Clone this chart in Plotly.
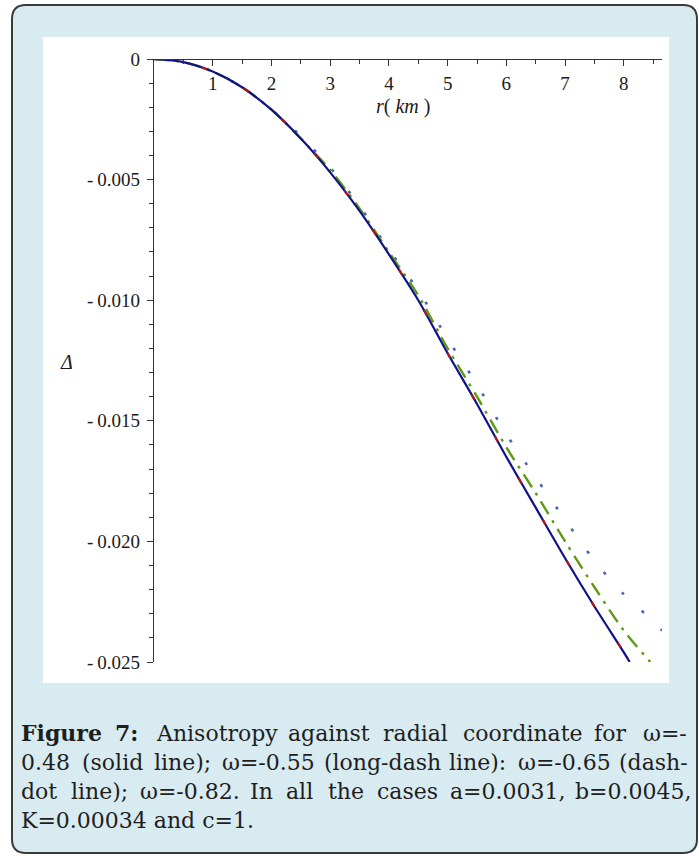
import plotly.graph_objects as go

# ---------------- data ----------------
r_solid = [0, 0.5, 1, 1.5, 2, 2.5, 3, 3.5, 4, 4.5, 5, 5.5, 6, 6.5, 7, 7.5, 8, 8.1]
d_solid = [0, -0.00013, -0.00052, -0.00117, -0.0021, -0.0033, -0.0047, -0.0063, -0.0081,
           -0.0100, -0.0122, -0.0143, -0.0165, -0.0186, -0.0207, -0.0227, -0.0246, -0.0250]

r_longdash = [0, 0.5, 1, 1.5, 2, 2.5, 3, 3.5, 4, 4.5, 5, 5.5, 6, 6.5, 7, 7.5, 8, 8.1]
d_longdash = [0, -0.00013, -0.00052, -0.00117, -0.0021, -0.0033, -0.0047, -0.0063, -0.0081,
              -0.0100, -0.0122, -0.0143, -0.0165, -0.0186, -0.0207, -0.0227, -0.0246, -0.0250]

r_dashdot = [0, 0.5, 1, 1.5, 2, 2.5, 3, 3.5, 4, 4.5, 5, 5.5, 6, 6.5, 7, 7.5, 8, 8.45]
d_dashdot = [0, -0.00013, -0.00052, -0.00117, -0.0021, -0.0033, -0.0046, -0.0062, -0.0080,
             -0.0098, -0.0120, -0.0140, -0.0161, -0.0180, -0.0200, -0.0219, -0.0237, -0.0250]

r_dot = [0, 0.5, 1, 1.5, 2, 2.5, 3, 3.5, 4, 4.5, 5, 5.5, 6, 6.5, 7, 7.5, 8, 8.5, 8.65]
d_dot = [0, -0.00013, -0.00052, -0.00117, -0.0021, -0.0032, -0.0045, -0.0061, -0.0079,
         -0.0096, -0.0116, -0.0135, -0.01556, -0.01735, -0.0191, -0.0208, -0.0222, -0.0233, -0.0237]

x_tickvals = [1, 2, 3, 4, 5, 6, 7, 8]
x_ticktext = ["1", "2", "3", "4", "5", "6", "7", "8"]
y_tickvals = [0, -0.005, -0.010, -0.015, -0.020, -0.025]
y_ticktext = ["0", "-\u20090.005", "-\u20090.010", "-\u20090.015", "-\u20090.020", "-\u20090.025"]

caption_lines = [
    [("Figure", True), ("7:", True), ("Anisotropy", False), ("against", False), ("radial", False),
     ("coordinate", False), ("for", False), ("ω=-", False)],
    [("0.48", False), ("(solid", False), ("line);", False), ("ω=-0.55", False), ("(long-dash", False),
     ("line):", False), ("ω=-0.65", False), ("(dash-", False)],
    [("dot", False), ("line);", False), ("ω=-0.82.", False), ("In", False), ("all", False), ("the", False),
     ("cases", False), ("a=0.0031,", False), ("b=0.0045,", False)],
]
caption_last = "K=0.00034 and c=1."

# ---------------- geometry ----------------
W, H = 699, 856
L, R, T, B = 154, 37, 59, 194
PW, PH = W - L - R, H - T - B


def px(x):
    return (x - L) / PW


def py(y):
    return 1 - (y - T) / PH


def rounded_path(x0, y0, x1, y1, rad):
    pts = [
        ("M", [(x0 + rad, y0)]), ("L", [(x1 - rad, y0)]), ("Q", [(x1, y0), (x1, y0 + rad)]),
        ("L", [(x1, y1 - rad)]), ("Q", [(x1, y1), (x1 - rad, y1)]), ("L", [(x0 + rad, y1)]),
        ("Q", [(x0, y1), (x0, y1 - rad)]), ("L", [(x0, y0 + rad)]), ("Q", [(x0, y0), (x0 + rad, y0)]),
    ]
    s = ""
    for cmd, ps in pts:
        s += cmd + " " + " ".join(f"{px(a):.5f},{py(b):.5f}" for a, b in ps) + " "
    return s + "Z"


fig = go.Figure()

fig.add_trace(go.Scatter(x=r_dot, y=d_dot, mode="lines",
                         line=dict(color="#4a66b0", width=2.6, dash="3px,24px", shape="spline", smoothing=0.8),
                         showlegend=False, hoverinfo="skip"))
fig.add_trace(go.Scatter(x=r_dashdot, y=d_dashdot, mode="lines",
                         line=dict(color="#5f9a14", width=2.4, dash="15px,7px,3px,7px", shape="spline",
                                   smoothing=0.8),
                         showlegend=False, hoverinfo="skip"))
fig.add_trace(go.Scatter(x=r_solid, y=d_solid, mode="lines",
                         line=dict(color="#10128a", width=2.2, shape="spline", smoothing=0.8),
                         showlegend=False, hoverinfo="skip"))
fig.add_trace(go.Scatter(x=r_longdash, y=d_longdash, mode="lines",
                         line=dict(color="#b01818", width=2.2, dash="6px,42px", shape="spline", smoothing=0.8),
                         showlegend=False, hoverinfo="skip"))

shapes = [
    dict(type="path", xref="paper", yref="paper", path=rounded_path(12, 5, 697, 853, 14),
         fillcolor="#d8ebf1", line=dict(color="#3a3a3a", width=2), layer="below"),
    dict(type="rect", xref="paper", yref="paper", x0=px(43), x1=px(669), y0=py(683), y1=py(37),
         fillcolor="#ffffff", line=dict(width=0), layer="below"),
]

tick_font = dict(family="Liberation Serif", size=19, color="#1a1a1a")

annotations = [
    dict(xref="paper", yref="paper", x=px(403), y=py(107), text="<i>r</i>( <i>km</i> )", showarrow=False,
         font=dict(family="Liberation Serif", size=20, color="#1a1a1a"), xanchor="center", yanchor="middle"),
    dict(xref="paper", yref="paper", x=px(66), y=py(362), text="<i>Δ</i>", showarrow=False,
         font=dict(family="Liberation Serif", size=20, color="#1a1a1a"), xanchor="center", yanchor="middle"),
]

# caption: justified lines built word by word
EM = {
    'a': .596, 'b': .640, 'c': .560, 'd': .640, 'e': .592, 'f': .370, 'g': .640, 'h': .644, 'i': .320,
    'j': .310, 'k': .606, 'l': .320, 'm': .948, 'n': .644, 'o': .602, 'p': .640, 'q': .640, 'r': .478,
    's': .513, 't': .402, 'u': .644, 'v': .565, 'w': .856, 'x': .564, 'y': .565, 'z': .527,
    'A': .722, 'F': .720, 'I': .373, 'K': .775, '0': .636, '1': .636, '2': .636, '3': .636, '4': .636,
    '5': .636, '6': .636, '7': .636, '8': .636, '9': .636, '.': .318, ',': .318, ':': .337, ';': .337,
    '(': .390, ')': .390, '-': .338, '=': .838, 'ω': .820, ' ': .318,
}
CAP_SIZE = 22
CAP_FONT = "DejaVu Serif"


def word_w(w, bold):
    s = sum(EM.get(ch, .6) for ch in w) * CAP_SIZE * 0.94
    return s * (1.08 if bold else 1.0)


XL, XR = 20, 683
line_y = [733, 762, 791, 820]
for li, words in enumerate(caption_lines):
    widths = [word_w(w, b) for w, b in words]
    gap = (XR - XL - sum(widths)) / (len(words) - 1)
    x = XL
    for (w, b), wd in zip(words, widths):
        annotations.append(dict(xref="paper", yref="paper", x=px(x), y=py(line_y[li]),
                                text=f"<b>{w}</b>" if b else w, showarrow=False, xanchor="left",
                                yanchor="middle", borderpad=0,
                                font=dict(family=CAP_FONT, size=CAP_SIZE, color="#1e1e1e")))
        x += wd + gap
annotations.append(dict(xref="paper", yref="paper", x=px(XL), y=py(line_y[3]), text=caption_last,
                        showarrow=False, xanchor="left", yanchor="middle", borderpad=0,
                        font=dict(family=CAP_FONT, size=CAP_SIZE, color="#1e1e1e")))

fig.update_layout(
    width=W, height=H, margin=dict(l=L, r=R, t=T, b=B, pad=0),
    paper_bgcolor="#ffffff", plot_bgcolor="rgba(0,0,0,0)",
    shapes=shapes, annotations=annotations, showlegend=False,
    xaxis=dict(range=[0, 8.65], anchor="free", position=1, side="bottom", showgrid=False, zeroline=False,
               showline=True, linecolor="#333333", linewidth=1.4,
               ticks="outside", ticklen=6, tickwidth=1.4, tickcolor="#333333",
               tickvals=x_tickvals, ticktext=x_ticktext, tickfont=tick_font, ticklabelstandoff=1,
               minor=dict(tickvals=[0.5, 1.5, 2.5, 3.5, 4.5, 5.5, 6.5, 7.5, 8.5], ticks="outside",
                          ticklen=4, tickwidth=1.4, tickcolor="#333333")),
    yaxis=dict(range=[-0.025, 0], showgrid=False, zeroline=False,
               showline=True, linecolor="#333333", linewidth=1.4,
               ticks="outside", ticklen=6, tickwidth=1.4, tickcolor="#333333",
               tickvals=y_tickvals, ticktext=y_ticktext, tickfont=tick_font, ticklabelstandoff=3,
               minor=dict(tickvals=[-0.001 * k for k in range(1, 25) if k % 5], ticks="outside",
                          ticklen=4, tickwidth=1.4, tickcolor="#333333")),
)

fig.write_html("out.html")
